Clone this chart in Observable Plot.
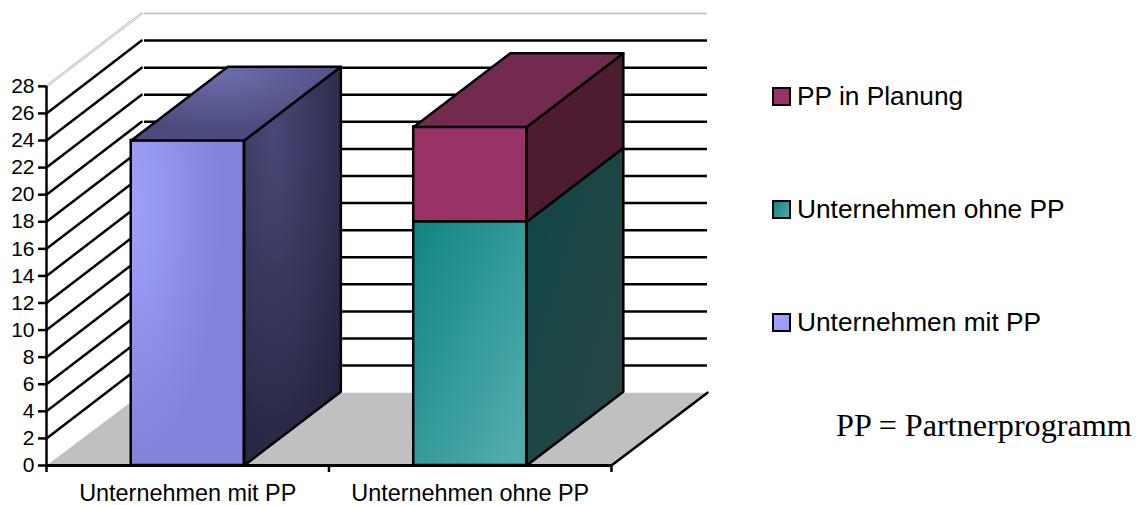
<!DOCTYPE html>
<html>
<head>
<meta charset="utf-8">
<script src="https://cdn.jsdelivr.net/npm/d3@7"></script>
<script src="https://cdn.jsdelivr.net/npm/@observablehq/plot@0.6"></script>
<style>
  html,body{margin:0;padding:0;background:#fff}
  #wrap{position:relative;width:1141px;height:505px;overflow:hidden}
  #wrap svg{display:block;position:absolute;left:0;top:0}
  .lg{position:absolute;left:772px;display:flex;align-items:center;height:20px;font:26.3px "Liberation Sans",sans-serif;color:#000;white-space:nowrap}
  .sw{box-sizing:border-box;width:19px;height:19px;border:2.5px solid #000;margin-right:6px;flex:none}
  #note{position:absolute;left:836px;top:407px;font:32.2px "Liberation Serif",serif;color:#000;white-space:nowrap}
</style>
</head>
<body>
<div id="wrap"></div>
<script>
const categories = ["Unternehmen mit PP", "Unternehmen ohne PP"];
const seriesNames = ["Unternehmen mit PP", "Unternehmen ohne PP", "PP in Planung"];
const mitPP = [24, 0];
const ohnePP = [0, 18];
const inPlanung = [0, 7];
const gridValues = [2,4,6,8,10,12,14,16,18,20,22,24,26];
const axisValues = [0,...gridValues,28];
const note = "PP = Partnerprogramm";

// oblique projection, in data units
const depthX = 0.342, depthY = 5.38, barDepthY = 5.45, barGap = 0.3, wallX = 0.347, wallEnd = 2.34;
const lw = 2.5;

const faces = [
  {front:"fp", side:"sp", top:"tp"},
  {front:"ft", side:"st", top:"tt"},
  {front:"fm", side:"sm", top:"tm"}
];
const stacks = [mitPP, ohnePP, inPlanung];
const segs = [];
categories.forEach((c, i) => {
  let base = 0;
  stacks.forEach((vals, s) => {
    if (vals[i] > 0) { segs.push({i, s, y0: base, y1: base + vals[i]}); base += vals[i]; }
  });
  segs.filter(d => d.i === i).at(-1).last = true;
});

function gradDefs() {
  const defs = d3.create("svg:defs");
  const lin = (id, c0, c1, x1, y1, x2, y2) => {
    const g = defs.append("linearGradient").attr("id", id).attr("x1",x1).attr("y1",y1).attr("x2",x2).attr("y2",y2);
    g.append("stop").attr("offset",0).attr("stop-color",c0);
    g.append("stop").attr("offset",1).attr("stop-color",c1);
  };
  const rad = (id, c0, c1, cx, cy, r) => {
    const g = defs.append("radialGradient").attr("id", id).attr("cx",cx).attr("cy",cy).attr("r",r);
    g.append("stop").attr("offset",0).attr("stop-color",c0);
    g.append("stop").attr("offset",1).attr("stop-color",c1);
  };
  rad("fp","#a0a0ff","#8282da",0,0.2,0.8);
  rad("sp","#484878","#25253f",0.3,0.15,0.9);
  rad("tp","#6c6cab","#4b4b7c",0.42,0.1,0.75);
  lin("ft","#108484","#50abab",0,0,0.9,0.9);
  lin("st","#0e4646","#2b4545",0,0,1,1);
  lin("tt","#0e4646","#2b4545",0,0,1,1);
  lin("fm","#993366","#993366",0,0,1,1);
  lin("sm","#4f1c30","#4d1c30",0,0,1,1);
  lin("tm","#732a50","#732a50",0,0,1,1);
  return defs.node();
}

const poly = (pts, fill, opts = {}) => Plot.line(pts, {x: d => d[0], y: d => d[1], fill, stroke: "#000", strokeWidth: lw, curve: "linear-closed", strokeLinejoin: "round", ...opts});
const seg = (pts, stroke, strokeWidth) => Plot.line(pts, {x: d => d[0], y: d => d[1], stroke, strokeWidth});

const barMarks = segs.flatMap(d => {
  const x0 = d.i + barGap, x1 = d.i + 1 - barGap, f = faces[d.s];
  const out = [
    Plot.rect([d], {x1: () => x0, x2: () => x1, y1: v => v.y0, y2: v => v.y1, fill: `url(#${f.front})`, stroke: "#000", strokeWidth: lw}),
    poly([[x1,d.y0],[x1+depthX,d.y0+barDepthY],[x1+depthX,d.y1+barDepthY],[x1,d.y1]], `url(#${f.side})`)
  ];
  if (d.last) out.push(poly([[x0,d.y1],[x1,d.y1],[x1+depthX,d.y1+barDepthY],[x0+depthX,d.y1+barDepthY]], `url(#${f.top})`));
  return out;
});

const chart = Plot.plot({
  width: 1141, height: 505,
  marginLeft: 46, marginRight: 434, marginTop: 13, marginBottom: 40,
  x: {type: "linear", domain: [0, wallEnd], label: null, axis: null},
  y: {type: "linear", domain: [0, 33.38], label: null, axis: null},
  style: {background: "#fff", overflow: "visible"},
  marks: [
    gradDefs,
    // wall: back lines and diagonals
    Plot.ruleY(gridValues, {x1: wallX, x2: wallEnd, y: d => d + depthY, stroke: "#000", strokeWidth: lw}),
    Plot.ruleY([28], {x1: wallX, x2: wallEnd, y: d => d + depthY, stroke: "#c0c0c0", strokeWidth: 1.5}),
    ...gridValues.map(v => seg([[0,v],[0.337,v+depthY]], "#000", lw)),
    seg([[0,28],[0.337,28+depthY]], "#c0c0c0", 2.5),
    seg([[0,28],[0.337,28+depthY]], "#fff", 0.8),
    // floor
    poly([[0,0],[2,0],[wallEnd,depthY],[depthX,depthY]], "#c0c0c0", {stroke: "none"}),
    seg([[0,0.1],[0.337,depthY+0.1]], "#fff", 1.5),
    Plot.ruleY([depthY], {x1: wallX, x2: wallEnd, stroke: "#fff", strokeWidth: 1, dy: -1}),
    seg([[2,0],[wallEnd,depthY]], "#000", lw),
    ...barMarks,
    // axes
    Plot.ruleX([0], {y1: 0, y2: 28, stroke: "#000", strokeWidth: lw}),
    Plot.ruleY([0], {x1: 0, x2: 2, stroke: "#000", strokeWidth: lw + 0.5}),
    Plot.axisY({ticks: axisValues, tickSize: 8, tickPadding: 4, tickFormat: d => d, fontSize: 21, fontFamily: "Liberation Sans", strokeWidth: lw, stroke: "#000", fill: "#000", label: null}),
    Plot.axisX({ticks: [0,1,2], tickSize: 7, tickFormat: () => "", strokeWidth: lw, stroke: "#000", label: null}),
    Plot.axisX({ticks: categories.map((c,i) => i + 0.5), tickSize: 0, tickPadding: 19, tickFormat: d => categories[Math.floor(d)], fontSize: 23.4, fontFamily: "Liberation Sans", fill: "#000", label: null})
  ]
});
const wrap = document.getElementById("wrap");
wrap.append(chart);

const swatches = ["linear-gradient(120deg,#a0a0ff,#9a9af6)", "linear-gradient(120deg,#108484,#4ea9a9)", "#993366"];
const legendTops = [312, 199, 86];
seriesNames.forEach((n, i) => {
  const r = document.createElement("div");
  r.className = "lg";
  r.style.top = legendTops[i] + "px";
  const s = document.createElement("span");
  s.className = "sw";
  s.style.background = swatches[i];
  r.append(s, document.createTextNode(n));
  wrap.append(r);
});
const nt = document.createElement("div");
nt.id = "note";
nt.textContent = note;
wrap.append(nt);
</script>
</body>
</html>
